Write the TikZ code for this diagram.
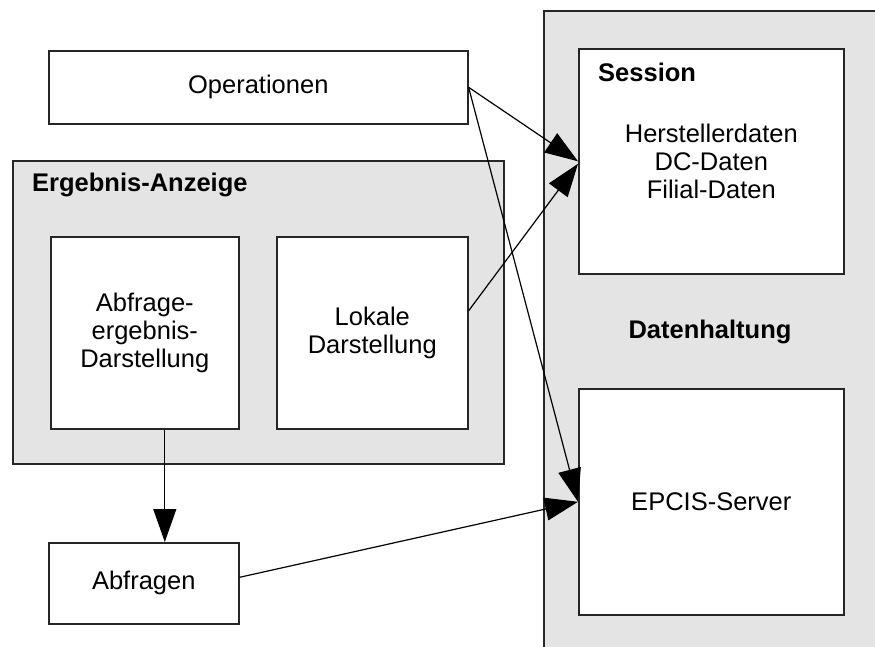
\documentclass[tikz,border=0pt]{standalone}
\usepackage{fontspec}
\setmainfont{Liberation Sans}
\usetikzlibrary{arrows.meta}
\definecolor{panel}{RGB}{228,228,228}
\begin{document}
\begin{tikzpicture}[x=1pt,y=-1pt,
  frame/.style={draw=black!85, line width=1.6pt},
  panelbox/.style={frame, fill=panel, anchor=north west, inner sep=0pt},
  box/.style={frame, fill=white, anchor=north west, inner sep=0pt, align=center,
    font=\fontsize{25.5}{28}\selectfont},
  heading/.style={font=\bfseries\fontsize{25.5}{28}\selectfont, inner sep=0pt},
  link/.style={draw=black, line width=1.2pt, -{Triangle[length=33pt,width=23pt]}}
]
\useasboundingbox (0,0) rectangle (875,647);
\fill[white] (0,0) rectangle (875,647);
\clip (0,0) rectangle (875,647);

% grey panels
\node[panelbox, minimum width=491pt, minimum height=303pt] (anzeige) at (12,160) {};
\node[panelbox, minimum width=340pt, minimum height=660pt] (haltung) at (543,10) {};

% panel headings
\node[heading, anchor=base west] (anzeigetitel) at (32,192) {Ergebnis-Anzeige};
\node[heading, anchor=base] (haltungtitel) at (710,338) {Datenhaltung};

% boxes
\node[box, minimum width=419pt, minimum height=73pt] (op) at (48,50) {Operationen};
\node[box, minimum width=188pt, minimum height=192pt] (abf) at (50,236) {Abfrage-\\ergebnis-\\Darstellung};
\node[box, minimum width=191pt, minimum height=192pt] (lok) at (276,236) {Lokale\\Darstellung};
\node[box, minimum width=190pt, minimum height=81pt] (abfq) at (48,542) {Abfragen};
\node[box, minimum width=265pt, minimum height=225pt] (sess) at (578,48) {Herstellerdaten\\DC-Daten\\Filial-Daten};
\node[box, minimum width=265pt, minimum height=226pt] (epcis) at (578,388) {EPCIS-Server};
\node[heading, anchor=base west] (sesstitel) at (598,82) {Session};

% connectors
\draw[link] (op.east) -- (sess.west);
\draw[link] (op.east) -- (epcis.west);
\draw[link] ([yshift=22pt]lok.east) -- ([yshift=-2.5pt]sess.west);
\draw[link] ([xshift=20pt]abf.south) -- ([xshift=21pt]abfq.north);
\draw[link] ([yshift=6pt]abfq.east) -- (epcis.west);
\end{tikzpicture}
\end{document}
